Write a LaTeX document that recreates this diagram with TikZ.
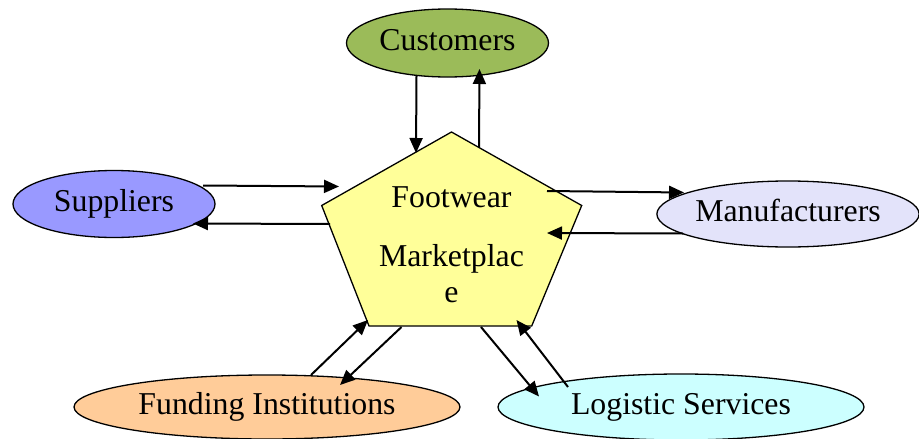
\documentclass[tikz,border=0pt]{standalone}
\usepackage{fontspec}
\setmainfont{Liberation Serif}
\newfontfamily\labelserif{Liberation Serif}
\usetikzlibrary{arrows.meta,shapes.geometric}
\definecolor{custgreen}{HTML}{9BBB59}
\definecolor{suppblue}{HTML}{9999FF}
\definecolor{manulav}{HTML}{E3E3FA}
\definecolor{fundpeach}{HTML}{FFCC99}
\definecolor{logicyan}{HTML}{CCFFFF}
\definecolor{marketyellow}{HTML}{FFFF99}
\begin{document}
\begin{tikzpicture}[x=1pt,y=-1pt,
  bigtext/.style={font=\labelserif\fontsize{31.8}{36}\selectfont},
  party/.style={ellipse, draw, line width=1.3pt, inner sep=0pt,
    text height=22.5pt, text depth=6.8pt, bigtext},
  flow/.style={line width=2pt, -{Triangle[length=15pt,width=13pt]}}]
\useasboundingbox (0,0) rectangle (919,439);

% stakeholders
\node[party, fill=custgreen,  minimum width=202pt, minimum height=68pt] (cust) at (447.5,43)  {Customers};
\node[party, fill=suppblue,   minimum width=202pt, minimum height=67pt] (supp) at (114,204)   {Suppliers};
\node[party, fill=manulav,    minimum width=262pt, minimum height=66pt] (manu) at (788,214)   {Manufacturers};
\node[party, fill=fundpeach,  minimum width=386pt, minimum height=64pt] (fund) at (267,407)   {Funding Institutions};
\node[party, fill=logicyan,   minimum width=366pt, minimum height=66pt] (logi) at (681,407)   {Logistic Services};

% central marketplace pentagon
\draw[fill=marketyellow, line width=1.3pt]
  (451.5,132) coordinate (pT) -- (581.7,205.5) coordinate (pR)
  -- (531.7,326) coordinate (pBR) -- (369,326) coordinate (pBL)
  -- (321.7,205.5) coordinate (pL) -- cycle;
\node[bigtext, align=center, inner sep=0pt, anchor=north] (market) at (451.5,186)
  {Footwear\\[23.7pt]Marketplac\\e};

% connector end points
\coordinate (c1a) at (416.5,76);   \coordinate (c1b) at (416,153);
\coordinate (c2a) at (479,147.5);  \coordinate (c2b) at (479.5,69);
\coordinate (s1a) at (203,185.5);  \coordinate (s1b) at (339,186.5);
\coordinate (s2a) at (330,224);    \coordinate (s2b) at (193,223.5);
\coordinate (m1a) at (547,191);    \coordinate (m1b) at (684,192.5);
\coordinate (m2a) at (683,233.5);  \coordinate (m2b) at (547,233);
\coordinate (f1a) at (311,375);    \coordinate (f1b) at (368,320);
\coordinate (f2a) at (401.5,327);  \coordinate (f2b) at (340,385);
\coordinate (l1a) at (481,327);    \coordinate (l1b) at (539,396.5);
\coordinate (l2a) at (568,387);    \coordinate (l2b) at (516.5,320);

% flows between marketplace and stakeholders
\draw[flow] (c1a) -- (c1b);
\draw[flow] (c2a) -- (c2b);
\draw[flow] (s1a) -- (s1b);
\draw[flow] (s2a) -- (s2b);
\draw[flow] (m1a) -- (m1b);
\draw[flow] (m2a) -- (m2b);
\draw[flow] (f1a) -- (f1b);
\draw[flow] (f2a) -- (f2b);
\draw[flow] (l1a) -- (l1b);
\draw[flow] (l2a) -- (l2b);
\end{tikzpicture}
\end{document}
